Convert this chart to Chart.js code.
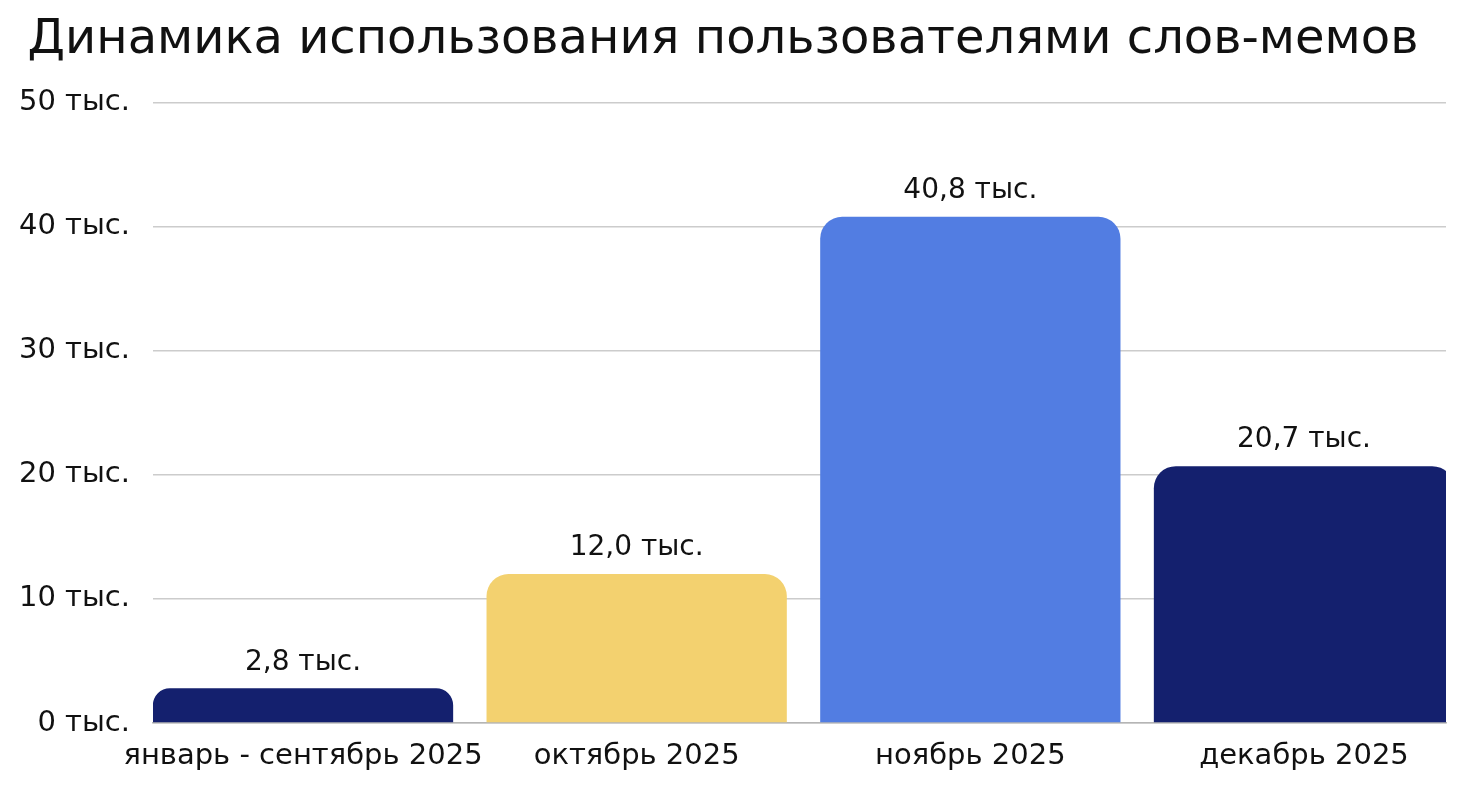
<!DOCTYPE html>
<html><head><meta charset="utf-8">
<script src="https://cdn.jsdelivr.net/npm/chart.js@4/dist/chart.umd.min.js"></script>
<style>html,body{margin:0;padding:0;background:#fff;overflow:hidden}#wrap{width:1458px;height:788px}</style>
</head><body><div id="wrap"><canvas id="c"></canvas></div>
<script>
const titleText = 'Динамика использования пользователями слов-мемов';
const categories = ['январь - сентябрь 2025', 'октябрь 2025', 'ноябрь 2025', 'декабрь 2025'];
const values = [2.8, 12.0, 40.8, 20.7];
const valueLabels = ['2,8 тыс.', '12,0 тыс.', '40,8 тыс.', '20,7 тыс.'];
const yTicks = [0, 10, 20, 30, 40, 50];
const barColors = ['#14206E', '#F3D16F', '#527DE2', '#14206E'];

const FONT = "'DejaVu Sans', sans-serif";

const labelPlugin = {
  id: 'valLabels',
  afterDatasetsDraw(chart) {
    const ctx = chart.ctx;
    const meta = chart.getDatasetMeta(0);
    ctx.save();
    ctx.font = '28px ' + FONT;
    ctx.fillStyle = '#111';
    ctx.textAlign = 'center';
    ctx.textBaseline = 'middle';
    meta.data.forEach((bar, i) => {
      ctx.fillText(valueLabels[i], bar.x, bar.y - 26);
    });
    ctx.restore();
  }
};

new Chart(document.getElementById('c'), {
  type: 'bar',
  data: {
    datasets: [{
      data: values.map((v, i) => ({x: i, y: v})),
      backgroundColor: barColors,
      borderRadius: {topLeft: 22, topRight: 22, bottomLeft: 0, bottomRight: 0},
      borderSkipped: 'bottom',
      barPercentage: 0.9,
      categoryPercentage: 1.0
    }]
  },
  options: {
    responsive: true,
    maintainAspectRatio: false,
    animation: false,
    layout: {padding: {left: 0, right: 12, top: 0, bottom: 0}},
    plugins: {
      legend: {display: false},
      tooltip: {enabled: false},
      title: {
        display: true,
        text: titleText,
        color: '#111',
        font: {family: FONT, size: 48, weight: 'normal'},
        padding: {top: 12, bottom: 33}
      }
    },
    scales: {
      x: {
        type: 'linear',
        offset: false,
        bounds: 'data',
        min: -0.4496,
        max: 3.4256,
        grid: {display: false},
        border: {display: true, color: '#b5b5b5', width: 1.5},
        afterBuildTicks: (axis) => { axis.ticks = categories.map((_, i) => ({value: i})); },
        afterFit: (scale) => { scale.height = 65; },
        ticks: {
          autoSkip: false,
          maxRotation: 0,
          padding: 8,
          color: '#111',
          font: {family: FONT, size: 29},
          callback: (v) => categories[v] !== undefined ? categories[v] : ''
        }
      },
      y: {
        min: 0,
        max: 50,
        afterBuildTicks: (axis) => { axis.ticks = yTicks.map(v => ({value: v})); },
        afterFit: (scale) => { scale.width = 153; },
        grid: {color: '#cccccc', lineWidth: 1.5, drawTicks: false},
        border: {display: false},
        ticks: {
          padding: 23,
          color: '#111',
          font: {family: FONT, size: 29},
          callback: (v) => v + ' тыс.'
        }
      }
    }
  },
  plugins: [labelPlugin]
});
</script></body></html>
